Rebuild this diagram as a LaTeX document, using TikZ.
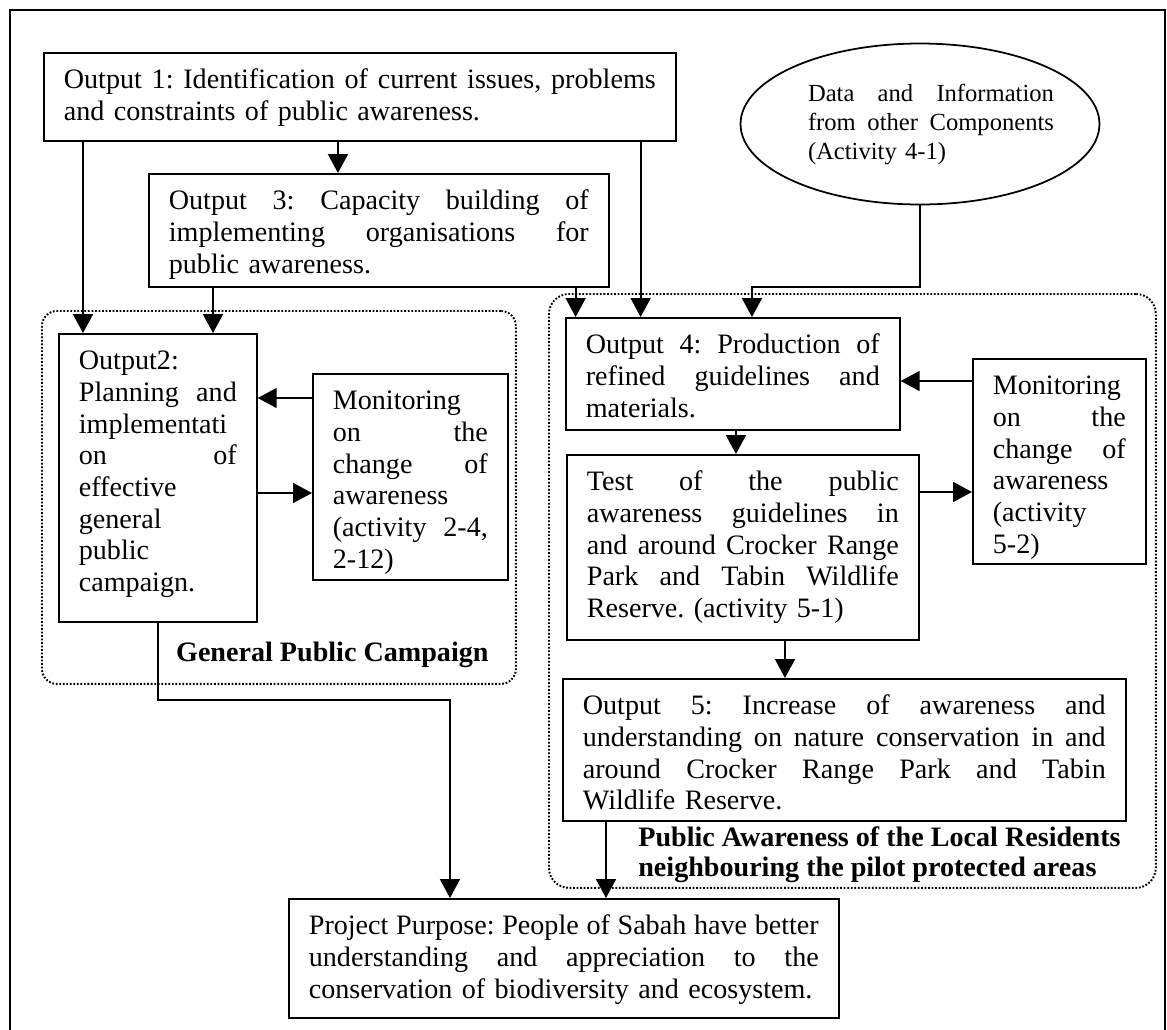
\documentclass[tikz,border=0pt]{standalone}
\usepackage{fontspec}
\setmainfont{Liberation Serif}
\usepackage{tikz}
\usetikzlibrary{arrows.meta,calc,positioning,shapes.geometric}
\newcommand{\jline}[1]{{\spaceskip=\fontdimen2\font plus 1fill\relax #1}}
\frenchspacing

\begin{document}
\begin{tikzpicture}[x=0.02cm,y=-0.02cm,
  box/.style={draw,line width=1pt,inner xsep=0.4cm,inner ysep=0pt,text height=20.5pt,align=left,anchor=north west,font=\fontsize{16}{18}\selectfont},
  grp/.style={draw,line width=1.1pt,dash pattern=on 1pt off 1pt,rounded corners=0.3cm,anchor=north west,inner sep=0pt},
  grplabel/.style={font=\fontsize{16}{17}\selectfont\bfseries,align=left,inner sep=0pt},
  arr/.style={line width=1pt,-{Triangle[length=0.38cm,width=0.4cm]}}]
  \useasboundingbox (0,0) rectangle (1167,1029);
  \draw[line width=1.2pt] (10,10) rectangle (1165,1045);

  \node[grp,minimum width=9.48cm,minimum height=7.46cm] (gpc) at (41,310) {};
  \node[grp,rounded corners=0.4cm,minimum width=12.14cm,minimum height=11.88cm] (para) at (548,293) {};
  \node[grplabel,anchor=base east] (gpclabel) at ([xshift=-0.56cm,yshift=0.46cm]gpc.south east) {General Public Campaign};
  \node[grplabel,anchor=west] (paralabel) at ([xshift=1.8cm,yshift=0.68cm]para.south west) {Public Awareness of the Local Residents\\neighbouring the pilot protected areas};

  \node[box,text width=11.84cm,minimum width=12.64cm,text depth=29.58pt] (out1) at (43,52)
    {\jline{Output 1: Identification of current issues, problems}\\ and constraints of public awareness.};
  \node[box,text width=8.4cm,minimum width=9.2cm,text depth=43.8pt] (out3) at (148,173)
    {\jline{Output 3: Capacity building of}\\ \jline{implementing organisations for}\\ public awareness.};
  \node[box,text width=3.16cm,minimum width=3.96cm,text depth=143.39pt] (out2) at (58,333)
    {Output2:\\ \jline{Planning and}\\ implementati\\ \jline{on of}\\ effective\\ general\\ public\\ campaign.};
  \node[box,text width=3.1cm,minimum width=3.9cm,text depth=96.72pt] (mon1) at (312,373)
    {Monitoring\\ \jline{on the}\\ \jline{change of}\\ awareness\\ \jline{(activity 2-4,}\\ 2-12)};
  \node[draw,ellipse,line width=1pt,minimum width=7.18cm,minimum height=3.22cm,inner xsep=-0.3cm,inner ysep=0pt,text width=5.36cm,align=left,font=\fontsize{14}{16.5}\selectfont] (data) at (920,124)
    {\hspace*{0.44cm}\jline{Data and Information}\\ \hspace*{0.44cm}\jline{from other Components}\\ \hspace*{0.44cm}(Activity 4-1)};
  \node[box,text width=5.88cm,minimum width=6.68cm,text depth=43.23pt] (out4) at (565,317)
    {\jline{Output 4: Production of}\\ \jline{refined guidelines and}\\ materials.};
  \node[box,text width=2.66cm,minimum width=3.46cm,text depth=96.16pt] (mon2) at (972,358)
    {Monitoring\\ \jline{on the}\\ \jline{change of}\\ awareness\\ (activity\\ 5-2)};
  \node[box,text width=6.24cm,minimum width=7.04cm,text depth=84.78pt] (test) at (566,454)
    {\jline{Test of the public}\\ \jline{awareness guidelines in}\\ \jline{and around Crocker Range}\\ \jline{Park and Tabin Wildlife}\\ Reserve. (activity 5-1)};
  \node[box,text width=10.46cm,minimum width=11.26cm,text depth=60.31pt] (out5) at (562,678)
    {\jline{Output 5: Increase of awareness and}\\ \jline{understanding on nature conservation in and}\\ \jline{around Crocker Range Park and Tabin}\\ Wildlife Reserve.};
  \node[box,text width=10.2cm,minimum width=11cm,text depth=47.22pt] (purpose) at (288,898)
    {\jline{Project Purpose: People of Sabah have better}\\ \jline{understanding and appreciation to the}\\ conservation of biodiversity and ecosystem.};

  \draw[arr] ([xshift=0.8cm]out1.south west) -- ([xshift=0.8cm]out1.south west |- out2.north);
  \draw[arr] ([xshift=5.9cm]out1.south west) -- ([xshift=5.9cm]out1.south west |- out3.north);
  \draw[arr] ([xshift=1.3cm]out3.south west) -- ([xshift=1.3cm]out3.south west |- out2.north);
  \draw[arr] ([xshift=-0.68cm]out3.south east) -- ([xshift=-0.68cm]out3.south east |- out4.north);
  \draw[arr] ([xshift=-0.72cm]out1.south east) -- ([xshift=-0.72cm]out1.south east |- out4.north);
  \draw[arr] (data.south) -- ++(0,82) -| ([xshift=3.74cm]out4.north west);
  \draw[arr] ([yshift=-0.5cm]mon1.north west) -- ([yshift=-0.5cm]mon1.north west -| out2.east);
  \draw[arr] ([yshift=-2.4cm]mon1.north west -| out2.east) -- ([yshift=-2.4cm]mon1.north west);
  \draw[arr] ([yshift=-0.46cm]mon2.north west) -- ([yshift=-0.46cm]mon2.north west -| out4.east);
  \draw[arr] ([yshift=-2.68cm]mon2.north west -| test.east) -- ([yshift=-2.68cm]mon2.north west);
  \draw[arr] ([xshift=3.42cm]out4.south west) -- ([xshift=3.42cm]out4.south west |- test.north);
  \draw[arr] ([xshift=4.38cm]test.south west) -- ([xshift=4.38cm]test.south west |- out5.north);
  \draw[arr] (out2.south) -- ++(0,77) -| ([xshift=3.24cm]purpose.north west);
  \draw[arr] ([xshift=0.88cm]out5.south west) -- ([xshift=0.88cm]out5.south west |- purpose.north);
\end{tikzpicture}
\end{document}
